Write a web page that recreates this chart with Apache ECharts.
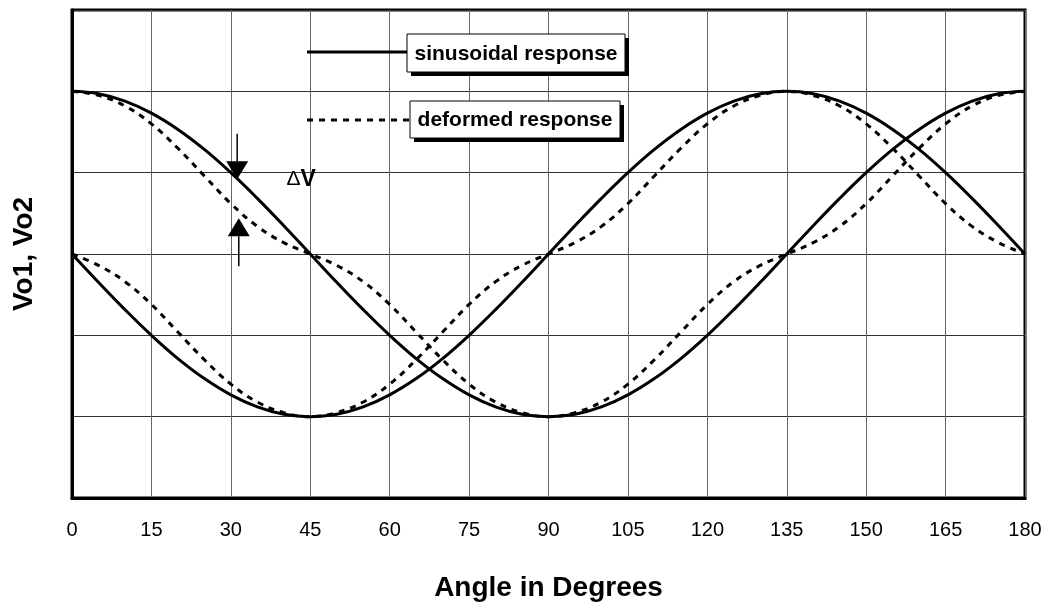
<!DOCTYPE html>
<html>
<head>
<meta charset="utf-8">
<script src="https://cdn.jsdelivr.net/npm/echarts@6/dist/echarts.min.js"></script>
<style>
  html, body { margin: 0; padding: 0; background: #fff; }
  #chart { width: 1048px; height: 610px; }
</style>
</head>
<body>
<div id="chart"></div>
<script>
// angle in degrees, every 5
const angles = [0, 5, 10, 15, 20, 25, 30, 35, 40, 45, 50, 55, 60, 65, 70, 75, 80, 85, 90,
  95, 100, 105, 110, 115, 120, 125, 130, 135, 140, 145, 150, 155, 160, 165, 170, 175, 180]

// sinusoidal responses
const vo1Sine = [1, 0.985, 0.94, 0.866, 0.766, 0.643, 0.5, 0.342, 0.174, 0, -0.174, -0.342, -0.5, -0.643, -0.766, -0.866, -0.94, -0.985, -1,
  -0.985, -0.94, -0.866, -0.766, -0.643, -0.5, -0.342, -0.174, 0, 0.174, 0.342, 0.5, 0.643, 0.766, 0.866, 0.94, 0.985, 1]
const vo2Sine = [0, -0.174, -0.342, -0.5, -0.643, -0.766, -0.866, -0.94, -0.985, -1, -0.985, -0.94, -0.866, -0.766, -0.643, -0.5, -0.342, -0.174, 0,
  0.174, 0.342, 0.5, 0.643, 0.766, 0.866, 0.94, 0.985, 1, 0.985, 0.94, 0.866, 0.766, 0.643, 0.5, 0.342, 0.174, 0]

// deformed responses
const vo1Deformed = [1, 0.975, 0.91, 0.8, 0.65, 0.48, 0.31, 0.17, 0.07, 0, -0.07, -0.17, -0.31, -0.48, -0.65, -0.8, -0.91, -0.975, -1,
  -0.975, -0.91, -0.8, -0.65, -0.48, -0.31, -0.17, -0.07, 0, 0.07, 0.17, 0.31, 0.48, 0.65, 0.8, 0.91, 0.975, 1]
const vo2Deformed = [0, -0.07, -0.17, -0.31, -0.48, -0.65, -0.8, -0.91, -0.975, -1, -0.975, -0.91, -0.8, -0.65, -0.48, -0.31, -0.17, -0.07, 0,
  0.07, 0.17, 0.31, 0.48, 0.65, 0.8, 0.91, 0.975, 1, 0.975, 0.91, 0.8, 0.65, 0.48, 0.31, 0.17, 0.07, 0]

// delta V arrows: [angle, from value, to value (tip)]
const arrowDown = [31.2, 0.74, 0.46]
const arrowUp = [31.5, -0.075, 0.22]

const FONT = 'Liberation Sans, Arial, sans-serif'

const pairs = (ys) => angles.map((a, i) => [a, ys[i]])

const chart = echarts.init(document.getElementById('chart'))

const lineSeries = (name, ys, dashed) => ({
  name,
  type: 'line',
  data: pairs(ys),
  showSymbol: false,
  smooth: 0.4,
  silent: true,
  lineStyle: {
    color: '#000',
    width: 3,
    type: dashed ? [6, 6] : 'solid'
  },
  z: dashed ? 2 : 3
})

chart.setOption({
  animation: false,
  backgroundColor: '#fff',
  grid: {
    left: 72,
    right: 23,
    top: 10,
    bottom: 112,
    show: true,
    borderColor: '#000',
    borderWidth: 3
  },
  xAxis: {
    type: 'value',
    min: 0,
    max: 180,
    interval: 15,
    name: 'Angle in Degrees',
    nameLocation: 'middle',
    nameGap: 76,
    nameTextStyle: { fontFamily: FONT, fontSize: 28, fontWeight: 'bold', color: '#000' },
    axisLine: { show: true, onZero: false, lineStyle: { color: '#000', width: 3 } },
    axisTick: { show: false },
    axisLabel: { fontFamily: FONT, fontSize: 20, color: '#000', margin: 22 },
    splitLine: { show: true, lineStyle: { color: '#666', width: 1 } }
  },
  yAxis: {
    type: 'value',
    min: -1.5,
    max: 1.5,
    interval: 0.5,
    name: 'Vo1, Vo2',
    nameLocation: 'middle',
    nameGap: 34,
    nameRotate: 90,
    nameTextStyle: { fontFamily: FONT, fontSize: 28, fontWeight: 'bold', color: '#000' },
    axisLine: { show: true, onZero: false, lineStyle: { color: '#000', width: 3 } },
    axisTick: { show: false },
    axisLabel: { show: false },
    splitLine: { show: true, lineStyle: { color: '#333', width: 1 } }
  },
  series: [
    lineSeries('deformed Vo1', vo1Deformed, true),
    lineSeries('deformed Vo2', vo2Deformed, true),
    lineSeries('sinusoidal Vo1', vo1Sine, false),
    lineSeries('sinusoidal Vo2', vo2Sine, false)
  ]
})

// annotations: legend boxes and the delta V arrows
const px = (a, v) => chart.convertToPixel({ gridIndex: 0 }, [a, v])

const arrow = (spec, pointDown) => {
  const tail = px(spec[0], spec[1])
  const tip = px(spec[0], spec[2])
  const h = 18
  const baseY = pointDown ? tip[1] - h : tip[1] + h
  return [
    {
      type: 'line',
      shape: { x1: tail[0], y1: tail[1], x2: tip[0], y2: baseY },
      style: { stroke: '#000', lineWidth: 1.5 },
      z: 20
    },
    {
      type: 'polygon',
      shape: { points: [[tip[0] - 11, baseY], [tip[0] + 11, baseY], [tip[0], tip[1]]] },
      style: { fill: '#000' },
      z: 20
    }
  ]
}

const legendBox = (x, y, w, h, text) => [
  { type: 'rect', shape: { x: x + 4, y: y + 4, width: w, height: h }, style: { fill: '#000' }, z: 20 },
  { type: 'rect', shape: { x, y, width: w, height: h }, style: { fill: '#fff', stroke: '#000', lineWidth: 1 }, z: 21 },
  {
    type: 'text',
    x: x + w / 2,
    y: y + h / 2 + 1,
    style: { text, fontFamily: FONT, fontSize: 21, fontWeight: 'bold', fill: '#000', align: 'center', verticalAlign: 'middle' },
    z: 22
  }
]

const dvPos = px(40.5, 0.46)

chart.setOption({
  graphic: [
    { type: 'line', shape: { x1: 307, y1: 52, x2: 407, y2: 52 }, style: { stroke: '#000', lineWidth: 3 }, z: 20 },
    ...legendBox(407, 34, 218, 38, 'sinusoidal response'),
    { type: 'line', shape: { x1: 307, y1: 120, x2: 410, y2: 120 }, style: { stroke: '#000', lineWidth: 3, lineDash: [6, 6] }, z: 20 },
    ...legendBox(410, 101, 210, 37, 'deformed response'),
    ...arrow(arrowDown, true),
    ...arrow(arrowUp, false),
    {
      type: 'text',
      x: dvPos[0],
      y: dvPos[1],
      style: {
        text: '{a|Δ}{b|V}',
        verticalAlign: 'middle',
        rich: {
          a: { fontFamily: FONT, fontSize: 21, fill: '#000' },
          b: { fontFamily: FONT, fontSize: 23, fontWeight: 'bold', fill: '#000' }
        }
      },
      z: 20
    }
  ]
})

window.addEventListener('resize', () => {
  chart.resize()
})
</script>
</body>
</html>
